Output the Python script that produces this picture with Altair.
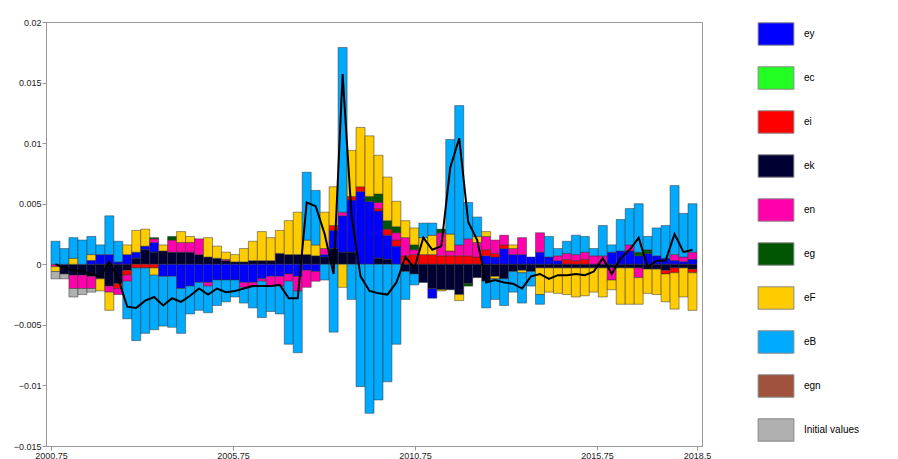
import altair as alt
import pandas as pd

series = ["ey", "ec", "ei", "ek", "en", "eg", "eF", "eB", "egn", "Initial values"]
colors = ["#0000FF", "#22FF22", "#FF0000", "#000033", "#FF00AA", "#005500",
          "#FFCC00", "#00AAFF", "#A0523C", "#B0B0B0"]
stack_order = ["ek", "ey", "ei", "en", "eg", "eF", "eB", "ec", "egn", "Initial values"]

# contributions per quarter, in units of 0.001 (bar: {shock: value})
bars = [
    {"en": -0.2, "eF": -0.4, "eB": 1.9, "init": -0.6},
    {"ek": -0.8, "eB": 1.3, "init": -0.4},
    {"ek": -0.9, "en": -1.1, "eF": 0.5, "eB": 1.7, "init": -0.7},
    {"ek": -0.9, "en": -1.1, "eB": 2.0, "init": -0.5},
    {"ek": -1.0, "en": -1.0, "eF": 0.5, "ey": 0.3, "eB": 1.5, "init": -0.3},
    {"ey": 0.8, "ek": -1.2, "eF": -1.0, "eB": 0.8},
    {"ey": 0.8, "ek": -1.8, "en": -0.5, "eF": -1.5, "eB": 3.2},
    {"ey": 0.2, "ek": -1.6, "ei": -0.4, "en": -0.5, "eB": 1.7},
    {"ey": 0.8, "ek": -0.5, "ei": -0.4, "en": -0.5, "eF": 0.8, "eB": -3.1},
    {"ey": 0.5, "ek": 0.5, "ei": -0.3, "eF": 1.8, "eB": -6.0},
    {"ey": 0.3, "ek": 1.2, "ei": -0.3, "eF": 1.4, "eB": -5.4},
    {"ey": 0.8, "ek": 1.0, "ei": -0.3, "en": 0.3, "eg": 0.1, "eF": -0.6, "eB": -4.5},
    {"ek": 1.1, "ey": -1.0, "eF": 0.5, "eB": -4.1},
    {"ek": 1.0, "ey": -1.0, "en": 1.0, "eg": 0.3, "eB": -4.2},
    {"ek": 1.0, "ey": -2.0, "en": 0.8, "eF": 0.9, "eB": -3.7},
    {"ek": 1.0, "ey": -1.8, "en": 0.8, "eF": 0.5, "eB": -2.3},
    {"ek": 0.8, "ey": -1.5, "en": 1.3, "eB": -2.3},
    {"ek": 0.6, "ey": -1.5, "en": -0.3, "eF": 1.6, "eB": -2.2},
    {"ek": 0.5, "ey": -1.3, "eF": 1.0, "eB": -2.1},
    {"ek": 0.3, "ey": -1.3, "en": 0.1, "eF": 0.6, "eB": -1.8},
    {"ek": 0.2, "ey": -1.3, "eF": 0.6, "eB": -1.4},
    {"ek": 0.2, "ey": -1.5, "en": -0.4, "eF": 1.1, "eB": -1.3},
    {"ek": 0.3, "ey": -1.5, "en": -0.3, "eF": 1.6, "eB": -1.8},
    {"ek": 0.3, "ey": -1.2, "en": -0.2, "eF": 2.4, "eB": -3.0},
    {"ek": 0.3, "ey": -1.0, "en": -0.8, "eF": 1.9, "eB": -2.1},
    {"ek": 0.9, "ey": -1.0, "en": -0.8, "eF": 1.9, "eB": -2.3},
    {"ek": 0.8, "ey": -0.8, "en": -0.6, "eF": 2.8, "eB": -5.2},
    {"ek": 0.8, "ey": -1.0, "en": -1.2, "eF": 3.5, "eB": -5.1},
    {"ek": 0.8, "ey": -0.5, "en": -1.4, "eF": 1.2, "eB": 5.6},
    {"ek": 0.7, "ey": -0.6, "en": -0.8, "eF": 0.9, "eB": 4.5},
    {"ek": 0.6, "ey": 0.2, "en": 0.5, "eF": 3.0, "eB": -1.3},
    {"ey": 1.5, "ek": 1.3, "ei": 0.4, "eF": 3.2, "eB": -5.6},
    {"ey": 3.0, "ek": 1.0, "en": 0.3, "eB": 13.6, "eF": -1.9},
    {"ey": 4.3, "ek": 1.0, "ei": 0.3, "eF": 3.8, "eB": -2.9},
    {"ey": 6.0, "ei": 0.4, "eF": 4.9, "eB": -10.1},
    {"ey": 5.2, "eg": 0.4, "eF": 5.0, "eB": -12.3},
    {"ey": 3.9, "ek": 0.5, "ei": 0.2, "en": 0.5, "eg": 0.7, "eF": 3.2, "eB": -11.2},
    {"ey": 2.0, "ei": 0.5, "ek": 0.4, "eg": 0.7, "eF": 3.6, "eB": -9.7},
    {"ey": 1.5, "ei": 0.5, "en": 0.6, "eg": 0.5, "eF": 2.1, "eB": -6.6},
    {"ei": 0.7, "en": 1.5, "eF": 1.4, "ek": -0.6, "eB": -2.3},
    {"ei": 0.8, "en": 0.4, "eg": 0.4, "eF": 1.4, "ek": -0.8, "eB": -0.9},
    {"ei": 0.8, "eF": 1.4, "eB": 1.2, "ek": -1.5},
    {"ei": 0.8, "eF": 1.6, "eB": 1.0, "ey": -0.8, "ek": -2.0},
    {"ei": 0.7, "en": 1.9, "eg": 0.3, "ek": -2.1, "eF": -0.1},
    {"ei": 0.7, "en": 0.4, "eF": 1.4, "eB": 7.8, "ek": -2.1},
    {"ei": 0.7, "en": 0.9, "eB": 11.5, "ek": -2.5, "eF": -0.5},
    {"ei": 0.7, "en": 1.4, "eB": 3.0, "ek": -1.6, "eg": -0.2},
    {"ei": 0.6, "en": 1.2, "eF": 0.5, "eB": 1.6, "ek": -1.1},
    {"ey": 0.7, "ei": 0.5, "en": 1.1, "eF": 0.4, "ek": -1.4, "eB": -2.2},
    {"ey": 0.6, "ei": 0.3, "en": 1.1, "ek": -1.0, "eF": -0.2, "eB": -1.7},
    {"ey": 1.3, "ei": 0.3, "en": 0.8, "ek": -1.2, "eB": -2.2},
    {"ey": 0.8, "en": 0.5, "eF": 0.3, "ek": -0.6, "eB": -1.7},
    {"ey": 0.8, "en": 1.4, "ek": -0.5, "eF": -0.2, "eB": -2.5},
    {"ey": 0.6, "ek": -0.6, "eB": -1.2},
    {"ey": 1.0, "en": 1.6, "ek": -0.3, "eF": -2.2, "eB": -0.8},
    {"ey": 0.6, "eB": 1.7, "ek": -0.3, "eF": -2.0},
    {"ey": 0.3, "en": 0.4, "eB": 0.6, "ek": -0.3, "eF": -2.1},
    {"ei": 0.4, "en": 0.5, "eB": 1.0, "ek": -0.3, "eF": -2.2},
    {"ei": 0.3, "en": 0.5, "eB": 1.6, "ek": -0.3, "eF": -2.4},
    {"ei": 0.4, "en": 0.6, "eB": 1.3, "ek": -0.3, "eF": -2.3},
    {"en": 0.7, "eB": 0.6, "ek": -0.3, "eF": -2.0},
    {"en": 0.7, "eB": 2.5, "ek": -0.3, "eF": -2.4},
    {"ey": 1.0, "eB": 0.6, "ek": -0.3, "en": -1.0, "eF": -0.8},
    {"ey": 1.1, "eB": 2.6, "ek": -0.3, "eF": -3.0},
    {"ey": 1.1, "en": 0.5, "eB": 3.0, "ek": -0.3, "eF": -3.0},
    {"ey": 0.7, "eg": 0.3, "eB": 4.0, "ek": -0.3, "en": -0.8, "eF": -2.2},
    {"ey": 0.9, "eg": 0.3, "eB": 1.1, "ek": -0.4, "eF": -2.0},
    {"ey": 0.7, "eB": 2.3, "ek": -0.4, "eF": -2.1},
    {"ey": 0.5, "eB": 2.7, "ek": -0.5, "ei": -0.3, "eF": -2.3},
    {"en": 0.5, "ey": 0.3, "eB": 5.7, "ek": -0.3, "ei": -0.4, "eF": -3.0},
    {"en": 0.4, "ey": 0.2, "eB": 3.6, "ek": -0.3, "eF": -2.4},
    {"en": 0.6, "ey": 0.4, "eB": 4.0, "ek": -0.4, "ei": -0.3, "eF": -3.1},
]

total = [0.0, -0.3, -0.5, -0.6, -0.8, -1.0, 0.2, -1.2, -3.5, -3.6, -3.0, -2.7,
         -3.4, -2.8, -3.1, -2.6, -2.0, -2.5, -2.0, -2.3, -2.2, -2.0, -1.8, -1.8,
         -1.8, -1.7, -2.8, -2.8, 5.1, 4.8, 2.5, -0.8, 15.7, 4.0, -1.0, -2.2,
         -2.4, -2.5, -1.5, 0.6, -0.3, 2.2, 1.2, 1.5, 8.0, 10.4, 3.5, 2.0,
         -1.5, -1.3, -1.5, -1.6, -2.0, -1.0, -0.8, -1.2, -0.9, -0.9, -0.8, -0.9,
         -0.6, 0.5, -0.8, 0.5, 1.2, 2.2, -0.2, 0.3, 0.3, 2.5, 1.0, 1.2]

start, end = 2000.75, 2018.5
n = len(bars)
step = (end - start) / n
t = [start + (i + 0.5) * step for i in range(n)]

rows = []
for i, b in enumerate(bars):
    for k, v in b.items():
        name = "Initial values" if k == "init" else k
        rows.append({"t": t[i], "shock": name, "v": v / 1000,
                     "o": stack_order.index(name)})
df = pd.DataFrame(rows)
line_df = pd.DataFrame({"t": t, "v": [v / 1000 for v in total]})

xs = alt.Scale(domain=[start, end], nice=False, zero=False)
ys = alt.Scale(domain=[-0.015, 0.02], nice=False)

bars_layer = alt.Chart(df).mark_bar(size=9, stroke="#333333", strokeWidth=0.5).encode(
    x=alt.X("t:Q", scale=xs,
            axis=alt.Axis(values=[2000.75, 2005.75, 2010.75, 2015.75, 2018.5],
                          title=None, grid=False, labelFontSize=9, tickSize=4,
                          labelExpr="datum.value == 2018.5 ? '2018.5' : format(datum.value, '.2f')")),
    y=alt.Y("v:Q", stack="zero", scale=ys,
            axis=alt.Axis(values=[-0.015, -0.01, -0.005, 0, 0.005, 0.01, 0.015, 0.02],
                          format=".3~f", title=None, grid=False, labelFontSize=9, tickSize=4)),
    color=alt.Color("shock:N", scale=alt.Scale(domain=series, range=colors),
                    legend=alt.Legend(title=None, symbolType="M-1.6,-1H1.6V1H-1.6Z",
                                      symbolSize=500, symbolStrokeColor="#888888",
                                      symbolStrokeWidth=1, labelFontSize=10,
                                      rowPadding=16, offset=62, labelOffset=16)),
    order=alt.Order("o:Q"),
)

line_layer = alt.Chart(line_df).mark_line(color="black", strokeWidth=2).encode(
    x=alt.X("t:Q", scale=xs), y=alt.Y("v:Q", scale=ys))

chart = (
    alt.layer(bars_layer, line_layer)
    .properties(width=656, height=424, padding={"left": 5, "top": 10, "right": 5, "bottom": 2})
    .configure_view(stroke="#999999")
    .configure_axis(domainColor="#999999", tickColor="#999999", labelColor="#222222",
                    labelFont="Liberation Sans", labelPadding=1)
    .configure_legend(labelFont="Liberation Sans")
)

chart.save("out.html", embed_options={"renderer": "svg", "actions": False})
